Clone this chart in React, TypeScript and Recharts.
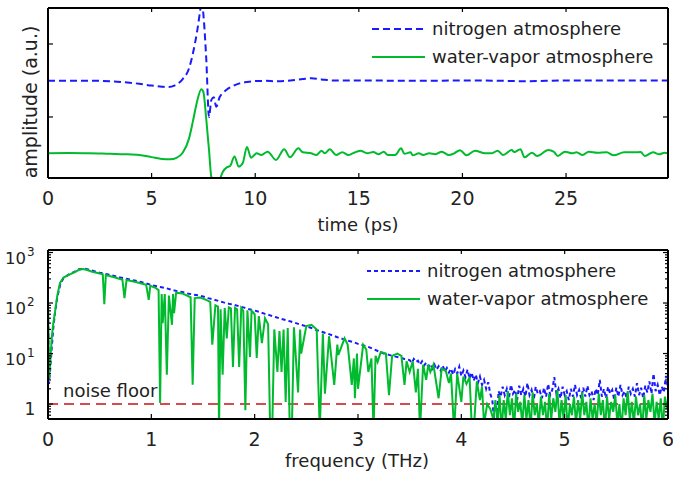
import React from 'react';
import { LineChart, Line, XAxis, YAxis } from 'recharts';

const FONT = '"DejaVu Sans", sans-serif';
const BLUE = '#1a1aff';
const GREEN = '#00bb2d';
const RED = '#cc1111';

// ---- time domain: [time (ps), amplitude (a.u.)]
const PULSE_N2: [number, number][] = [
  [0, 0.497], [1, 0.497], [2, 0.497], [3, 0.49], [3.7, 0.475], [4.4, 0.455], [5, 0.43], [5.5, 0.415],
  [5.8, 0.41], [6.1, 0.43], [6.5, 0.52], [6.8, 0.66], [7.0, 0.88], [7.2, 1.18], [7.35, 1.47], [7.42, 1.6],
  [7.5, 1.4], [7.64, 0.78], [7.77, 0.0], [7.88, 0.23], [8.0, 0.27], [8.12, 0.14], [8.28, 0.27], [8.45, 0.33],
  [8.6, 0.37], [8.9, 0.42], [9.25, 0.46], [9.6, 0.48], [9.9, 0.49], [10.5, 0.495], [11.0, 0.49], [11.7, 0.5],
  [12.3, 0.52], [12.7, 0.53], [13.2, 0.515], [13.8, 0.5], [15, 0.5], [18, 0.495], [20, 0.5], [22, 0.495],
  [23, 0.49], [25, 0.5], [28, 0.5], [29.92, 0.5],
];

const PULSE_H2O: [number, number][] = [
  [0, -0.498], [1, -0.495], [2, -0.497], [3, -0.505], [3.7, -0.51], [4.4, -0.52], [5, -0.55], [5.5, -0.575],
  [5.9, -0.58], [6.2, -0.56], [6.5, -0.49], [6.8, -0.3], [7.0, -0.05], [7.2, 0.22], [7.4, 0.38], [7.5, 0.34],
  [7.64, -0.04], [7.77, -0.45], [7.88, -0.82], [8.0, -0.9], [8.2, -0.9], [8.32, -0.83], [8.44, -0.75],
  [8.63, -0.69], [8.79, -0.67], [9.0, -0.54], [9.2, -0.68], [9.4, -0.63], [9.6, -0.41], [9.8, -0.56],
  [9.96, -0.52], [10.07, -0.498], [10.3, -0.521], [10.6, -0.475], [11.0, -0.589], [11.4, -0.443],
  [11.68, -0.553], [12.08, -0.429], [12.3, -0.484], [12.7, -0.498], [12.95, -0.521], [13.2, -0.461],
  [13.35, -0.498], [13.6, -0.443], [13.9, -0.521], [14.2, -0.484], [14.5, -0.521], [14.7, -0.498],
  [15.07, -0.461], [15.4, -0.498], [15.7, -0.48], [15.95, -0.511], [16.2, -0.475], [16.4, -0.521],
  [16.75, -0.521], [17.04, -0.429], [17.2, -0.505], [17.5, -0.484], [17.6, -0.525], [17.9, -0.498],
  [18.1, -0.521], [18.4, -0.498], [18.7, -0.511], [19.0, -0.475], [19.35, -0.521], [19.6, -0.498],
  [19.88, -0.455], [20.2, -0.525], [20.6, -0.461], [21.1, -0.498], [21.4, -0.498], [21.7, -0.461],
  [21.97, -0.521], [22.37, -0.452], [22.5, -0.48], [22.8, -0.443], [23.0, -0.553], [23.35, -0.489],
  [23.6, -0.534], [24.15, -0.452], [24.4, -0.475], [24.6, -0.534], [24.95, -0.475], [25.3, -0.498],
  [25.5, -0.484], [25.8, -0.521], [26.1, -0.475], [26.5, -0.489], [26.96, -0.484], [27.3, -0.525],
  [27.8, -0.484], [28.3, -0.484], [28.6, -0.48], [28.8, -0.534], [29.2, -0.484], [29.5, -0.511],
  [29.75, -0.489], [29.92, -0.498],
];

const TIME_TICKS = [0, 5, 10, 15, 20, 25];
const AMP_TICKS = [0, 1];
const TIME_DOMAIN = [0, 29.92];
const AMP_DOMAIN = [-0.836, 1.493];

// ---- frequency domain: [frequency (THz), spectral amplitude]
const SPEC_N2: [number, number][] = [
  [0, 90], [0.01, 2.5], [0.02, 4.5], [0.035, 12], [0.05, 30], [0.07, 70], [0.09, 130], [0.12, 240],
  [0.15, 310], [0.2, 365], [0.25, 410], [0.3, 465], [0.35, 480], [0.4, 455], [0.45, 425], [0.5, 400],
  [0.55, 380], [0.6, 360], [0.65, 340], [0.7, 320], [0.75, 305], [0.8, 290], [0.85, 275], [0.9, 260],
  [0.95, 245], [1.0, 228], [1.05, 215], [1.1, 205], [1.15, 195], [1.2, 182], [1.25, 172], [1.3, 165],
  [1.35, 155], [1.4, 148], [1.45, 142], [1.5, 135], [1.55, 125], [1.6, 118], [1.65, 110], [1.7, 103],
  [1.75, 97], [1.8, 92], [1.85, 86], [1.9, 81], [1.95, 75], [2.0, 71], [2.05, 66], [2.1, 61], [2.15, 57],
  [2.2, 53], [2.25, 49], [2.3, 46], [2.35, 43], [2.4, 40], [2.45, 37], [2.5, 34.5], [2.55, 32], [2.6, 29],
  [2.65, 27], [2.7, 25], [2.75, 23], [2.8, 21], [2.85, 19.5], [2.9, 18], [2.95, 17], [3.0, 15.5],
  [3.05, 14.5], [3.1, 13.5], [3.15, 12.3], [3.2, 11.0], [3.25, 10.0], [3.3, 9.4], [3.35, 8.8], [3.4, 8.4],
  [3.45, 7.8], [3.5, 7.4], [3.52, 6.5], [3.54, 7.8], [3.56, 6.8], [3.58, 7.2], [3.6, 6.0], [3.62, 7.0],
  [3.64, 5.8], [3.66, 6.6], [3.68, 5.5], [3.7, 6.2], [3.72, 5.0], [3.74, 6.0], [3.76, 4.8], [3.78, 5.6],
  [3.8, 4.6], [3.82, 5.8], [3.84, 4.4], [3.86, 5.2], [3.88, 4.2], [3.9, 5.0], [3.92, 3.8], [3.94, 4.9],
  [3.96, 4.0], [3.98, 5.5], [4.0, 3.6], [4.02, 4.6], [4.04, 3.4], [4.06, 4.8], [4.08, 3.2], [4.1, 4.2],
  [4.12, 2.9], [4.14, 3.8], [4.16, 2.6], [4.18, 3.5], [4.2, 2.4], [4.22, 3.0], [4.24, 2.0], [4.26, 2.7],
  [4.28, 1.6], [4.3, 1.2], [4.32, 0.4], [4.34, 0.3], [4.36, 1.8], [4.38, 1.4], [4.4, 2.2], [4.42, 1.5],
  [4.44, 2.0], [4.46, 1.3], [4.48, 2.4], [4.5, 1.6], [4.52, 1.9], [4.54, 1.2], [4.56, 2.3], [4.58, 1.5],
  [4.6, 2.0], [4.62, 1.4], [4.64, 2.6], [4.66, 1.5], [4.68, 1.9], [4.7, 1.2], [4.72, 2.2], [4.74, 1.6],
  [4.76, 1.8], [4.78, 1.3], [4.8, 2.1], [4.82, 1.4], [4.84, 2.5], [4.86, 1.5], [4.88, 1.9], [4.9, 3.4],
  [4.92, 1.6], [4.94, 2.0], [4.96, 1.3], [4.98, 2.2], [5.0, 1.5], [5.02, 1.8], [5.04, 1.2], [5.06, 2.0],
  [5.08, 1.4], [5.1, 2.4], [5.12, 1.5], [5.14, 1.9], [5.16, 1.3], [5.18, 2.1], [5.2, 1.4], [5.22, 2.3],
  [5.24, 1.5], [5.26, 1.8], [5.28, 1.2], [5.3, 2.0], [5.32, 1.5], [5.34, 3.0], [5.36, 1.4], [5.38, 2.0],
  [5.4, 1.3], [5.42, 2.2], [5.44, 1.6], [5.46, 1.9], [5.48, 1.2], [5.5, 2.1], [5.52, 1.4], [5.54, 2.4],
  [5.56, 1.5], [5.58, 1.8], [5.6, 1.3], [5.62, 2.2], [5.64, 1.6], [5.66, 2.0], [5.68, 1.4], [5.7, 2.6],
  [5.72, 1.5], [5.74, 2.1], [5.76, 1.3], [5.78, 2.3], [5.8, 1.7], [5.82, 2.8], [5.84, 1.6], [5.86, 4.0],
  [5.88, 1.8], [5.9, 2.4], [5.92, 1.5], [5.94, 2.2], [5.96, 1.7], [5.98, 3.6], [6.0, 2.0],
];

const SPEC_H2O: [number, number][] = [
  [0, 110], [0.01, 3.2], [0.02, 6], [0.036, 20], [0.05, 38], [0.068, 66], [0.09, 140], [0.116, 250],
  [0.15, 320], [0.2, 360], [0.25, 400], [0.3, 455], [0.34, 470], [0.38, 450], [0.42, 420], [0.5, 385],
  [0.53, 370], [0.545, 95], [0.56, 360], [0.65, 320], [0.72, 290], [0.74, 125], [0.76, 285], [0.85, 260],
  [0.95, 230], [0.975, 115], [0.99, 220], [1.04, 200], [1.07, 180], [1.085, 1.05], [1.1, 150], [1.11, 40],
  [1.13, 150], [1.15, 3.8], [1.17, 140], [1.2, 37], [1.21, 150], [1.22, 63], [1.24, 160], [1.3, 155],
  [1.38, 130], [1.4, 2.4], [1.42, 125], [1.47, 128], [1.52, 118], [1.57, 105], [1.59, 15], [1.62, 90],
  [1.645, 85], [1.655, 0.3], [1.67, 75], [1.69, 3.8], [1.71, 80], [1.73, 20], [1.75, 82], [1.77, 78],
  [1.79, 5.4], [1.81, 80], [1.83, 75], [1.85, 5.4], [1.87, 80], [1.89, 70], [1.91, 0.75], [1.93, 72],
  [1.955, 8.5], [1.97, 70], [2.0, 60], [2.02, 8.2], [2.04, 55], [2.07, 16], [2.1, 50], [2.13, 38],
  [2.15, 0.3], [2.17, 0.3], [2.19, 30], [2.22, 4.3], [2.24, 28], [2.26, 4.3], [2.28, 30], [2.3, 1.1],
  [2.32, 32], [2.34, 0.3], [2.36, 0.3], [2.38, 33], [2.42, 1.7], [2.44, 30], [2.45, 10], [2.5, 35],
  [2.55, 37], [2.6, 30], [2.63, 0.3], [2.66, 25], [2.68, 1.6], [2.72, 22], [2.77, 2.4], [2.8, 15],
  [2.81, 9.4], [2.87, 20], [2.9, 15], [2.94, 2.4], [2.96, 8], [2.97, 1.3], [2.99, 10], [3.0, 2.0],
  [3.05, 15], [3.08, 12], [3.1, 4.3], [3.13, 8], [3.15, 0.3], [3.17, 9], [3.19, 6.8], [3.22, 10.7],
  [3.27, 10], [3.3, 1.5], [3.33, 9], [3.38, 10], [3.42, 9], [3.45, 2.4], [3.47, 7], [3.5, 4.3], [3.53, 7],
  [3.56, 1.7], [3.58, 5], [3.6, 0.3], [3.63, 6], [3.66, 3.0], [3.68, 6], [3.7, 4.3], [3.73, 6], [3.78, 1.3],
  [3.81, 5], [3.85, 4.5], [3.88, 2.6], [3.9, 4], [3.93, 0.3], [3.96, 4], [4.0, 1.1], [4.02, 3.5], [4.05, 2.5],
  [4.08, 3.4], [4.1, 0.4], [4.12, 0.3], [4.15, 2.8], [4.18, 1.2], [4.2, 2.2], [4.22, 0.4], [4.25, 1.0],
  [4.28, 0.8], [4.31, 0.5], [4.33, 1.2], [4.35, 0.4], [4.37, 1.5], [4.39, 0.3], [4.41, 1.2], [4.43, 0.5],
  [4.45, 1.8], [4.47, 0.6], [4.49, 1.3], [4.51, 0.3], [4.53, 1.6], [4.55, 0.7], [4.57, 1.1], [4.59, 0.4],
  [4.61, 1.5], [4.63, 0.5], [4.65, 1.2], [4.67, 0.3], [4.69, 1.7], [4.71, 0.6], [4.73, 1.0], [4.75, 0.4],
  [4.77, 1.4], [4.79, 0.6], [4.81, 1.1], [4.83, 0.3], [4.85, 1.6], [4.87, 0.5], [4.89, 1.3], [4.91, 0.7],
  [4.93, 1.9], [4.95, 0.4], [4.97, 1.2], [4.99, 0.5], [5.01, 1.5], [5.03, 0.3], [5.05, 1.0], [5.07, 0.6],
  [5.09, 1.4], [5.11, 0.4], [5.13, 1.2], [5.15, 0.5], [5.17, 1.7], [5.19, 0.6], [5.21, 1.1], [5.23, 0.3],
  [5.25, 1.3], [5.27, 0.5], [5.29, 1.0], [5.31, 0.4], [5.33, 1.6], [5.35, 0.6], [5.37, 1.2], [5.39, 0.3],
  [5.41, 1.4], [5.43, 0.5], [5.45, 1.1], [5.47, 0.7], [5.49, 1.5], [5.51, 0.4], [5.53, 1.0], [5.55, 0.3],
  [5.57, 1.3], [5.59, 0.6], [5.61, 1.8], [5.63, 0.5], [5.65, 1.1], [5.67, 0.4], [5.69, 1.4], [5.71, 0.6],
  [5.73, 1.0], [5.75, 0.3], [5.77, 1.5], [5.79, 0.5], [5.81, 1.2], [5.83, 0.7], [5.85, 1.6], [5.87, 0.4],
  [5.89, 1.1], [5.91, 0.5], [5.93, 1.3], [5.95, 0.3], [5.97, 1.4], [5.99, 0.8], [6.0, 1.2],
];

const NOISE_FLOOR = 1;
const FREQ_DOMAIN = [0, 6];
const FREQ_TICKS = [0, 1, 2, 3, 4, 5, 6];
const SPEC_DOMAIN = [0.505, 1122];
const DECADES = [1, 10, 100, 1000];
const MINOR = [0.6, 0.7, 0.8, 0.9, 2, 3, 4, 5, 6, 7, 8, 9, 20, 30, 40, 50, 60, 70, 80, 90, 200, 300, 400, 500, 600, 700, 800, 900];

const rows = (pts: [number, number][]) => pts.map(([x, y]) => ({ x, y }));

const XTick = ({ x, y, payload, top, label }: any) => (
  <g>
    <line x1={x} y1={y} x2={x} y2={top ? y + 4 : y - 5} stroke="#000" strokeWidth={1.2} />
    {label && (
      <text x={x} y={y + 27} textAnchor="middle" fontFamily={FONT} fontSize={19} fill="#222">
        {payload.value}
      </text>
    )}
  </g>
);

const YTick = ({ x, y, payload, right, log }: any) => {
  const v = payload.value;
  const major = !log || DECADES.includes(v);
  const len = major ? 5 : 3;
  const k = Math.round(Math.log10(v));
  return (
    <g>
      <line x1={x} y1={y} x2={right ? x - len : x + len} y2={y} stroke="#000" strokeWidth={1.2} />
      {log && !right && major && (
        v === 1 ? (
          <text x={30} y={y + 11} textAnchor="middle" fontFamily={FONT} fontSize={17} fill="#222">1</text>
        ) : (
          <g fontFamily={FONT} fill="#222">
            <text x={26} y={y + 11} textAnchor="end" fontSize={16.5}>10</text>
            <text x={27} y={y + 3} fontSize={12}>{k}</text>
          </g>
        )
      )}
    </g>
  );
};

const AXIS = { stroke: '#000', strokeWidth: 2 };

const LegendBox = ({ x, y, dashBlue }: { x: number; y: number; dashBlue: string }) => (
  <g fontFamily={FONT} fontSize={18} fill="#222">
    <line x1={x} y1={y} x2={x + 53} y2={y} stroke={BLUE} strokeWidth={2} strokeDasharray={dashBlue} />
    <text x={x + 60} y={y + 6}>nitrogen atmosphere</text>
    <line x1={x} y1={y + 28} x2={x + 53} y2={y + 28} stroke={GREEN} strokeWidth={2} />
    <text x={x + 60} y={y + 34}>water-vapor atmosphere</text>
  </g>
);

export default function App() {
  return (
    <div style={{ position: 'absolute', left: 0, top: 0, width: 673, height: 479, background: '#fff' }}>
      <div style={{ position: 'absolute', left: 0, top: 0 }}>
        <LineChart width={673} height={240} margin={{ top: 0, right: 0, bottom: 0, left: 0 }}>
          <XAxis xAxisId="b" type="number" dataKey="x" domain={TIME_DOMAIN} allowDataOverflow ticks={TIME_TICKS}
            interval={0} height={62} tickSize={0} tickMargin={0} axisLine={AXIS} tick={(p: any) => <XTick {...p} label />} />
          <XAxis xAxisId="t" orientation="top" type="number" dataKey="x" domain={TIME_DOMAIN} allowDataOverflow
            ticks={TIME_TICKS} interval={0} height={8} tickSize={0} tickMargin={0} axisLine={AXIS}
            tick={(p: any) => <XTick {...p} top />} />
          <YAxis yAxisId="l" type="number" domain={AMP_DOMAIN} allowDataOverflow ticks={AMP_TICKS} interval={0}
            width={48} tickSize={0} tickMargin={0} axisLine={AXIS} tick={(p: any) => <YTick {...p} />} />
          <YAxis yAxisId="r" orientation="right" type="number" domain={AMP_DOMAIN} allowDataOverflow ticks={AMP_TICKS}
            interval={0} width={5} tickSize={0} tickMargin={0} axisLine={AXIS} tick={(p: any) => <YTick {...p} right />} />
          <Line xAxisId="b" yAxisId="l" data={rows(PULSE_N2)} dataKey="y" type="monotone" stroke={BLUE}
            strokeWidth={2} strokeDasharray="7 4" dot={false} activeDot={false} isAnimationActive={false} />
          <Line xAxisId="b" yAxisId="l" data={rows(PULSE_H2O)} dataKey="y" type="monotone" stroke={GREEN}
            strokeWidth={2} dot={false} activeDot={false} isAnimationActive={false} />
        </LineChart>
      </div>
      <div style={{ position: 'absolute', left: 0, top: 240 }}>
        <LineChart width={673} height={239} margin={{ top: 0, right: 0, bottom: 0, left: 0 }}>
          <XAxis xAxisId="b" type="number" dataKey="x" domain={FREQ_DOMAIN} allowDataOverflow ticks={FREQ_TICKS}
            interval={0} height={60} tickSize={0} tickMargin={0} axisLine={AXIS} tick={(p: any) => <XTick {...p} label />} />
          <XAxis xAxisId="t" orientation="top" type="number" dataKey="x" domain={FREQ_DOMAIN} allowDataOverflow
            ticks={FREQ_TICKS} interval={0} height={10} tickSize={0} tickMargin={0} axisLine={AXIS}
            tick={(p: any) => <XTick {...p} top />} />
          <YAxis yAxisId="l" type="number" scale="log" domain={SPEC_DOMAIN} allowDataOverflow
            ticks={[...DECADES, ...MINOR]} interval={0} width={48} tickSize={0} tickMargin={0} axisLine={AXIS}
            tick={(p: any) => <YTick {...p} log />} />
          <YAxis yAxisId="r" orientation="right" type="number" scale="log" domain={SPEC_DOMAIN} allowDataOverflow
            ticks={[...DECADES, ...MINOR]} interval={0} width={5} tickSize={0} tickMargin={0} axisLine={AXIS}
            tick={(p: any) => <YTick {...p} log right />} />
          <Line xAxisId="b" yAxisId="l" data={rows([[FREQ_DOMAIN[0], NOISE_FLOOR], [FREQ_DOMAIN[1], NOISE_FLOOR]])}
            dataKey="y" type="linear" stroke={RED} strokeWidth={1.5} strokeDasharray="10 6" dot={false}
            activeDot={false} isAnimationActive={false} />
          <Line xAxisId="b" yAxisId="l" data={rows(SPEC_N2)} dataKey="y" type="linear" stroke={BLUE}
            strokeWidth={2} strokeDasharray="4 3" dot={false} activeDot={false} isAnimationActive={false} />
          <Line xAxisId="b" yAxisId="l" data={rows(SPEC_H2O)} dataKey="y" type="linear" stroke={GREEN}
            strokeWidth={2} dot={false} activeDot={false} isAnimationActive={false} />
        </LineChart>
      </div>
      <svg width={673} height={479} style={{ position: 'absolute', left: 0, top: 0, pointerEvents: 'none' }}>
        <g fontFamily={FONT} fontSize={18} fill="#222">
          <text x={358} y={231} textAnchor="middle">time (ps)</text>
          <text x={357} y={467} textAnchor="middle">frequency (THz)</text>
          <text transform="translate(37,102) rotate(-90)" textAnchor="middle" fontSize={19}>amplitude (a.u.)</text>
          <text x={63} y={397}>noise floor</text>
        </g>
        <LegendBox x={372} y={29} dashBlue="7 4" />
        <LegendBox x={367} y={271} dashBlue="4 3" />
      </svg>
    </div>
  );
}
